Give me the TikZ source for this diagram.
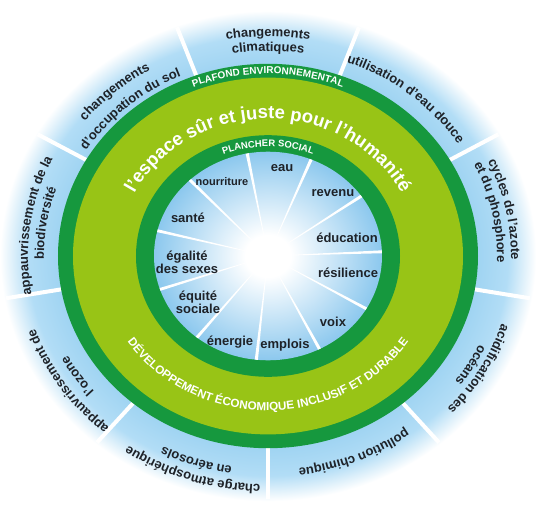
\documentclass[tikz,border=0pt]{standalone}
\usepackage{fontspec}
\setmainfont{Liberation Sans}
\usetikzlibrary{decorations.text}

\definecolor{ringdark}{RGB}{22,152,62}
\definecolor{ringlight}{RGB}{152,196,22}
\definecolor{labelink}{RGB}{30,34,40}
\definecolor{skynear}{RGB}{160,212,242}
\definecolor{skymid}{RGB}{178,221,246}
\definecolor{skyfade}{RGB}{226,242,251}
\definecolor{coreblue}{RGB}{140,200,238}

% sky band around the doughnut and glowing core inside it (25bp = path edge)
\pgfdeclareradialshading{skyband}{\pgfpoint{0bp}{0bp}}{color(0bp)=(skynear); color(19.6bp)=(skynear); color(22.4bp)=(skymid); color(24bp)=(skyfade); color(25bp)=(white); color(50bp)=(white)}
\pgfdeclareradialshading{coreglow}{\pgfpoint{0bp}{0bp}}{color(0bp)=(white); color(5bp)=(white); color(25bp)=(coreblue); color(50bp)=(coreblue)}

% fonts
\newcommand\outlab{\fontsize{13}{13}\selectfont\bfseries\color{labelink}}
\newcommand\ringsmall{\fontsize{10}{10}\selectfont\bfseries\color{white}}
\newcommand\ringtiny{\fontsize{9.5}{9.5}\selectfont\bfseries\color{white}}
\newcommand\ringbig{\fontsize{18.5}{18.5}\selectfont\bfseries\color{white}}
\newcommand\ringmid{\fontsize{11.7}{11.7}\selectfont\bfseries\color{white}}

% text set along an elliptic arc: start angle, end angle, x radius, format, text
\newcommand\ringtext[5]{%
  \pgfmathsetmacro\yrad{0.915*#3}%
  \path[decorate,decoration={text along path,text align=center,text={|#4|#5}}]
    (#1:#3 and \yrad) arc[start angle=#1,end angle=#2,x radius=#3,y radius=\yrad];}

\begin{document}
\begin{tikzpicture}[x=1pt,y=1pt,
  outerspoke/.style={draw=white,line width=4pt},
  inlab/.style={font=\fontsize{13}{12}\selectfont\bfseries,text=labelink,inner sep=0pt,align=center}]
\useasboundingbox[fill=white] (-268,-251) rectangle (273,256);

% sky band and the nine boundary sectors
\shade[shading=skyband] (0,0) ellipse[x radius=268,y radius=245.2];
\foreach \a in {70,110,...,390}
  \draw[outerspoke] (\a:210 and 192.2) -- (\a:266 and 243.4);

% rings
\fill[ringdark] (0,0) ellipse[x radius=210,y radius=192.2];
\fill[ringlight] (0,0) ellipse[x radius=195,y radius=178.4];
\fill[ringdark] (0,0) ellipse[x radius=132,y radius=120.8];
\shade[shading=coreglow] (0,0) ellipse[x radius=114,y radius=104.3];

% eleven social sectors
\foreach \i in {0,...,10} {
  \pgfmathsetmacro\al{100.5-32.727*\i-0.8}
  \pgfmathsetmacro\ar{100.5-32.727*\i+0.8}
  \fill[white] (0,0) -- (\al:114 and 104.3) -- (\ar:114 and 104.3) -- cycle;
}

% ring captions
\ringtext{120}{60}{199}{\ringsmall}{PLAFOND ENVIRONNEMENTAL}
\ringtext{122}{58}{119.5}{\ringtiny}{PLANCHER SOCIAL}
\ringtext{158}{22}{150}{\ringbig}{l'espace sûr et juste pour l'humanité}
\ringtext{200}{340}{169}{\ringmid}{DÉVELOPPEMENT ÉCONOMIQUE INCLUSIF ET DURABLE}

% environmental ceiling
\ringtext{115}{65}{240}{\outlab}{changements}
\ringtext{115}{65}{224}{\outlab}{climatiques}
\ringtext{156}{106}{235}{\outlab}{changements}
\ringtext{156}{106}{215}{\outlab}{d'occupation du sol}
\ringtext{76}{26}{226}{\outlab}{utilisation d'eau douce}
\ringtext{37}{-13}{243}{\outlab}{cycles de l'azote}
\ringtext{37}{-13}{229}{\outlab}{et du phosphore}
\ringtext{-5}{-55}{245}{\outlab}{acidification des}
\ringtext{-5}{-55}{232}{\outlab}{océans}
\ringtext{-43}{-93}{234}{\outlab}{pollution chimique}
\ringtext{-83}{-133}{250}{\outlab}{charge atmosphérique}
\ringtext{-83}{-133}{233}{\outlab}{en aérosols}
\ringtext{-121}{-171}{246}{\outlab}{appauvrissement de}
\ringtext{-121}{-171}{228}{\outlab}{l'ozone}
\ringtext{197}{147}{240}{\outlab}{appauvrissement de la}
\ringtext{196}{146}{224}{\outlab}{biodiversité}

% social foundation
\node[inlab] (eau) at (14,88) {eau};
\node[inlab,font=\fontsize{11}{12}\selectfont\bfseries] (nourriture) at (-46,74) {nourriture};
\node[inlab] (revenu) at (65,63) {revenu};
\node[inlab] (sante) at (-80,38) {santé};
\node[inlab] (education) at (79,18) {éducation};
\node[inlab] (egalite) at (-81,-6) {égalité\\des sexes};
\node[inlab] (resilience) at (80,-17) {résilience};
\node[inlab] (equite) at (-70,-46) {équité\\sociale};
\node[inlab] (voix) at (65,-66) {voix};
\node[inlab] (energie) at (-38,-86) {énergie};
\node[inlab] (emplois) at (17,-89) {emplois};
\end{tikzpicture}
\end{document}
